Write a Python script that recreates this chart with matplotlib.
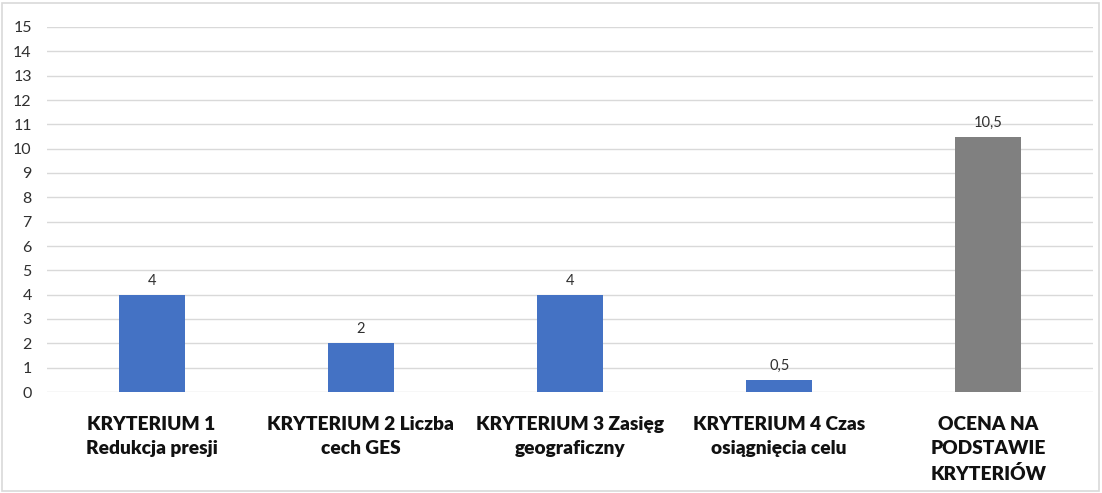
import matplotlib
matplotlib.use("Agg")
import matplotlib.pyplot as plt
from matplotlib.patches import Rectangle

categories = ["KRYTERIUM 1\nRedukcja presji",
              "KRYTERIUM 2 Liczba\ncech GES",
              "KRYTERIUM 3 Zasięg\ngeograficzny",
              "KRYTERIUM 4 Czas\nosiągnięcia celu",
              "OCENA NA\nPODSTAWIE\nKRYTERIÓW"]
values = [4, 2, 4, 0.5, 10.5]
value_labels = ["4", "2", "4", "0,5", "10,5"]
colors = ["#4472C4", "#4472C4", "#4472C4", "#4472C4", "#808080"]
yticks = list(range(0, 16))

plt.rcParams['font.family'] = ['Lato', 'DejaVu Sans']

fig = plt.figure(figsize=(11.02, 4.93), dpi=100)
ax = fig.add_axes([47/1102, 101/493, 1046/1102, 365/493])

x = list(range(len(categories)))
bars = ax.bar(x, values, width=0.316, color=colors, zorder=3)
for xi, v, lab in zip(x, values, value_labels):
    ax.annotate(lab, (xi, v), xytext=(0, 5), textcoords="offset points",
                ha="center", va="bottom", fontsize=10.5, color="#303030")

ax.set_xlim(-0.5, len(categories) - 0.5)
ax.set_ylim(0, 15)
ax.set_yticks(yticks)
ax.set_yticklabels([str(t) for t in yticks], fontsize=11.5, color="#303030")
ax.set_xticks(x)
ax.set_xticklabels(categories, fontsize=13.8, fontweight="heavy", color="#111111",
                   linespacing=1.5, va="top")
ax.tick_params(axis="y", length=0, pad=11)
ax.tick_params(axis="x", length=0, pad=17.5)
ax.grid(axis="y", color="#D9D9D9", linewidth=1, zorder=0)
for s in ax.spines.values():
    s.set_visible(False)

fig.patches.append(Rectangle((2/1102, 2/493), 1097/1102, 488/493,
                             transform=fig.transFigure, fill=False,
                             edgecolor="#D9D9D9", linewidth=1.2))

fig.savefig("out.png", dpi=100)
